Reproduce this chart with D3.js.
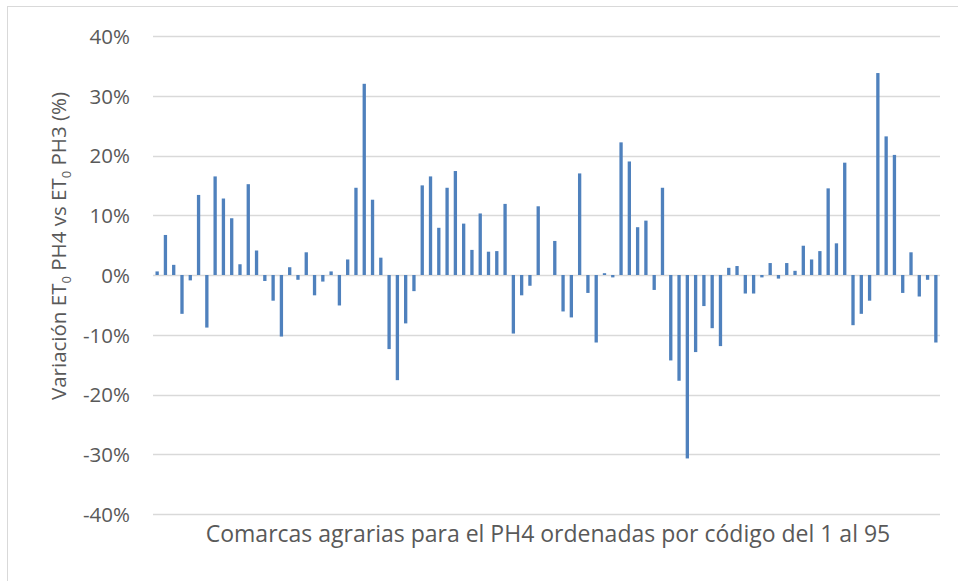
<!DOCTYPE html>
<html>
<head>
<meta charset="utf-8">
<script src="https://cdn.jsdelivr.net/npm/d3@7"></script>
<style>
  html, body { margin: 0; padding: 0; background: #fff; }
  svg { display: block; }
  text { font-family: "Open Sans", "Liberation Sans", sans-serif; fill: #595959; }
</style>
</head>
<body>
<svg id="chart" width="958" height="581"></svg>
<script>
// Data: variation of ET0 PH4 vs ET0 PH3 per comarca (1..95), in %
const categories = d3.range(1, 96);
const values = [
  0.6, 6.7, 1.7, -6.5, -0.9, 13.4, -8.8, 16.5, 12.8, 9.5,
  1.8, 15.2, 4.1, -1.0, -4.3, -10.3, 1.3, -0.8, 3.8, -3.4,
  -1.1, 0.6, -5.1, 2.6, 14.6, 32.0, 12.6, 2.9, -12.4, -17.6,
  -8.1, -2.7, 15.0, 16.5, 7.9, 14.6, 17.4, 8.6, 4.2, 10.3,
  3.9, 4.0, 11.9, -9.8, -3.4, -1.8, 11.5, 0.0, 5.7, -6.1,
  -7.1, 17.0, -3.0, -11.3, 0.3, -0.4, 22.2, 19.0, 8.0, 9.1,
  -2.5, 14.6, -14.3, -17.7, -30.7, -12.9, -5.2, -8.9, -11.9, 1.2,
  1.5, -3.1, -3.1, -0.4, 2.0, -0.6, 2.0, 0.7, 4.9, 2.6,
  4.0, 14.5, 5.3, 18.8, -8.4, -6.5, -4.3, 33.8, 23.2, 20.1,
  -3.0, 3.8, -3.6, -0.8, -11.3
];
const yTicks = [-40, -30, -20, -10, 0, 10, 20, 30, 40];
const xTitle = "Comarcas agrarias para el PH4 ordenadas por código del 1 al 95";

const svg = d3.select("#chart");
const W = 958, H = 581;
const plot = { left: 153, right: 940, top: 36, bottom: 514 };
const FONT = '"Open Sans", "Liberation Sans", sans-serif';

// outer chart border
svg.append("rect")
  .attr("x", 7.5).attr("y", 6.5)
  .attr("width", W + 10).attr("height", H + 10)
  .attr("fill", "none").attr("stroke", "#d9d9d9").attr("stroke-width", 1);

const x = d3.scaleBand()
  .domain(categories)
  .range([plot.left, plot.right])
  .paddingInner(0.6).paddingOuter(0.3);

const y = d3.scaleLinear().domain([-40, 40]).range([plot.bottom, plot.top]);

// gridlines
svg.append("g").selectAll("line").data(yTicks).join("line")
  .attr("x1", plot.left).attr("x2", plot.right)
  .attr("y1", d => Math.round(y(d)) + 0.5).attr("y2", d => Math.round(y(d)) + 0.5)
  .attr("stroke", "#d9d9d9").attr("stroke-width", 1.3);

// y axis labels
const yAxis = d3.axisLeft(y).tickValues(yTicks).tickSize(0).tickPadding(0)
  .tickFormat(d => d + "%");
const gy = svg.append("g").attr("transform", `translate(${130},0)`).call(yAxis);
gy.select(".domain").remove();
gy.selectAll("text")
  .attr("font-size", 20.5)
  .attr("dy", "0.36em")
  .style("font-family", FONT)
  .attr("fill", "#595959");

// bars
svg.append("g").selectAll("rect").data(values).join("rect")
  .attr("x", (d, i) => x(categories[i]))
  .attr("width", x.bandwidth())
  .attr("y", d => y(Math.max(0, d)))
  .attr("height", d => Math.abs(y(d) - y(0)))
  .attr("fill", "#4f81bd");

// y title with subscripts
const yt = svg.append("text")
  .attr("transform", `translate(66,246) rotate(-90)`)
  .attr("text-anchor", "middle")
  .attr("font-size", 20.5)
  .attr("fill", "#595959");
yt.append("tspan").text("Variación ET");
yt.append("tspan").attr("font-size", 13).attr("dy", 5).text("0");
yt.append("tspan").attr("dy", -5).text(" PH4 vs ET");
yt.append("tspan").attr("font-size", 13).attr("dy", 5).text("0");
yt.append("tspan").attr("dy", -5).text(" PH3 (%)");

// x title
svg.append("text")
  .attr("x", 548).attr("y", 542)
  .attr("text-anchor", "middle")
  .attr("font-size", 23)
  .attr("fill", "#595959")
  .text(xTitle);
</script>
</body>
</html>
